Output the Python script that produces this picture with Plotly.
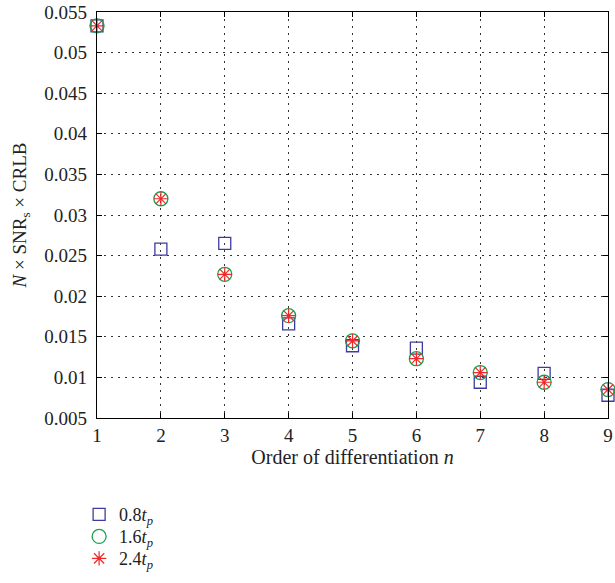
import plotly.graph_objects as go

n = [1, 2, 3, 4, 5, 6, 7, 8, 9]
s08 = [0.0533, 0.0258, 0.0265, 0.0166, 0.0139, 0.0136, 0.0094, 0.0105, 0.0078]
s16 = [0.0533, 0.0320, 0.0227, 0.0176, 0.0145, 0.0123, 0.0106, 0.0094, 0.0085]
s24 = [0.0533, 0.0320, 0.0227, 0.0176, 0.0145, 0.0123, 0.0106, 0.0094, 0.0085]
names = ["0.8<i>t</i><sub><i>p</i></sub>", "1.6<i>t</i><sub><i>p</i></sub>", "2.4<i>t</i><sub><i>p</i></sub>"]
yticks = [0.005, 0.01, 0.015, 0.02, 0.025, 0.03, 0.035, 0.04, 0.045, 0.05, 0.055]
yticktext = ["0.005", "0.01", "0.015", "0.02", "0.025", "0.03", "0.035", "0.04", "0.045", "0.05", "0.055"]

FONT = "Liberation Serif"
fig = go.Figure()
fig.add_trace(go.Scatter(x=n, y=s08, mode="markers", name=names[0], legend="legend",
                         marker=dict(symbol="square-open", size=12, color="#3c3ca0",
                                     line=dict(width=1.3, color="#3c3ca0")), cliponaxis=False))
fig.add_trace(go.Scatter(x=n, y=s16, mode="markers", name=names[1], legend="legend2",
                         marker=dict(symbol="circle-open", size=14, color="#1aa050",
                                     line=dict(width=1.3, color="#1aa050")), cliponaxis=False))
fig.add_trace(go.Scatter(x=n, y=s24, mode="markers", name=names[2], legend="legend3",
                         marker=dict(symbol="asterisk-open", size=12, color="#f02828",
                                     line=dict(width=1.2, color="#f02828")), cliponaxis=False))

axis_common = dict(showline=True, linecolor="black", linewidth=1.2, mirror="ticks",
                   ticks="inside", ticklen=5, tickcolor="black", tickwidth=1.2,
                   showgrid=True, gridcolor="#333333", griddash="2px,5px", gridwidth=1.2,
                   zeroline=False, ticklabeloverflow="allow",
                   tickfont=dict(family=FONT, size=19, color="#222"))

def leg(ytop):
    return dict(x=-0.035, y=ytop, xanchor="left", yanchor="middle",
                bgcolor="rgba(0,0,0,0)", font=dict(family=FONT, size=18, color="#222"),
                itemsizing="trace", borderwidth=0)

fig.update_layout(
    width=615, height=583,
    margin=dict(l=97, r=2, t=11, b=165),
    paper_bgcolor="white", plot_bgcolor="white",
    font=dict(family=FONT, size=18, color="#222"),
    xaxis=dict(range=[1, 9], tickvals=n, ticktext=[str(v) for v in n],
               title=dict(text="Order of differentiation <i>n</i>", standoff=5,
                          font=dict(family=FONT, size=20)), **axis_common),
    yaxis=dict(range=[0.005, 0.055], tickvals=yticks, ticktext=yticktext,
               ticklabelstandoff=5,
               title=dict(text="<i>N</i> × SNR<sub>s</sub> × CRLB", standoff=12,
                          font=dict(family=FONT, size=19)), **axis_common),
    legend=leg((418 - 515) / 407),
    legend2=leg((418 - 537) / 407),
    legend3=leg((418 - 559) / 407),
    showlegend=True,
)
fig.write_html("out.html")
